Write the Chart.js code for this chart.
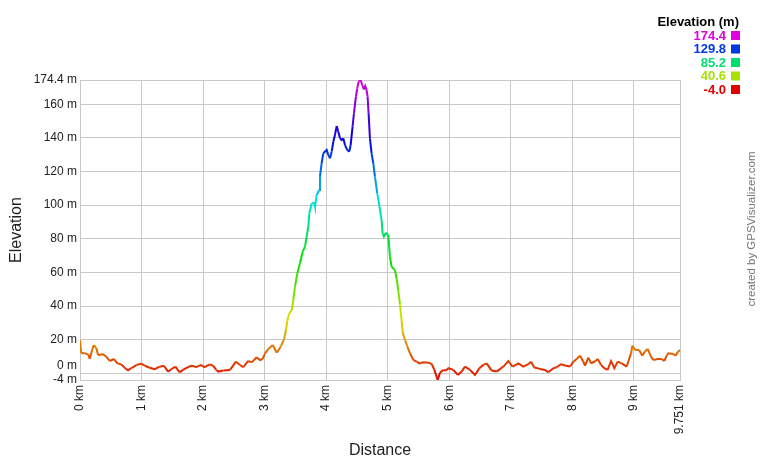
<!DOCTYPE html>
<html>
<head>
<meta charset="utf-8">
<title>Elevation profile</title>
<script src="https://cdn.jsdelivr.net/npm/chart.js@4.4.0/dist/chart.umd.min.js"></script>
<style>
  html, body { margin: 0; padding: 0; background: #fff; }
  #wrap { width: 760px; height: 460px; position: relative; }
</style>
</head>
<body>
<div id="wrap"><canvas id="chart"></canvas></div>
<script>
// track profile
const distanceKm = [
  0, 0.02, 0.076, 0.141, 0.158, 0.184, 0.223, 0.265, 0.293, 0.374, 0.427, 0.483, 0.553, 0.606, 0.671, 0.726,
  0.78, 0.834, 0.915, 0.996, 1.052, 1.133, 1.214, 1.295, 1.365, 1.43, 1.484, 1.549, 1.62, 1.674, 1.755, 1.809,
  1.89, 1.962, 2.027, 2.108, 2.162, 2.215, 2.248, 2.329, 2.438, 2.535, 2.6, 2.654, 2.735, 2.79, 2.872, 2.925,
  2.969, 3.007, 3.06, 3.132, 3.197, 3.262, 3.315, 3.348, 3.369, 3.402, 3.44, 3.467, 3.494, 3.532, 3.575, 3.619,
  3.657, 3.684, 3.711, 3.727, 3.765, 3.803, 3.819, 3.846, 3.889, 3.9, 3.927, 3.954, 4.009, 4.036, 4.063, 4.09,
  4.117, 4.144, 4.171, 4.198, 4.225, 4.252, 4.279, 4.306, 4.344, 4.376, 4.398, 4.43, 4.452, 4.484, 4.506, 4.527,
  4.56, 4.587, 4.614, 4.636, 4.657, 4.674, 4.69, 4.712, 4.739, 4.766, 4.793, 4.831, 4.863, 4.901, 4.918, 4.939,
  4.972, 5.01, 5.037, 5.063, 5.118, 5.145, 5.172, 5.2, 5.228, 5.245, 5.283, 5.32, 5.363, 5.418, 5.472, 5.515,
  5.58, 5.661, 5.716, 5.759, 5.813, 5.851, 5.905, 5.948, 5.986, 6.067, 6.138, 6.203, 6.257, 6.338, 6.419, 6.49,
  6.555, 6.609, 6.69, 6.772, 6.88, 6.961, 7.031, 7.124, 7.205, 7.286, 7.33, 7.384, 7.476, 7.557, 7.611, 7.693,
  7.747, 7.818, 7.883, 7.964, 8.019, 8.072, 8.127, 8.18, 8.207, 8.262, 8.305, 8.38, 8.413, 8.467, 8.521, 8.575,
  8.63, 8.684, 8.738, 8.803, 8.885, 8.955, 8.977, 9.02, 9.085, 9.14, 9.182, 9.226, 9.28, 9.318, 9.388, 9.453,
  9.496, 9.534, 9.561, 9.643, 9.68, 9.713, 9.751
];
const elevationM = [
  19.8, 11.9, 12, 10.9, 8.5, 12, 16.8, 14.9, 10.9, 11.3, 9.9, 7.3, 8.5, 5.9, 5.3, 3.3,
  1.8, 3, 4.9, 5.7, 4.5, 3.3, 2.4, 3.9, 4.5, 1, 2.4, 3.9, 0.6, 2, 3.6, 4.5,
  3.7, 4.9, 3.6, 5.3, 4.5, 2, 1, 1.6, 2, 6.9, 4.9, 3.6, 7.3, 6.5, 9.5, 7.9,
  8.5, 11.9, 14.4, 16.8, 12.2, 15.8, 20.2, 25.7, 31.3, 35.7, 37.6, 43.6, 51.5, 59.5, 65.4, 72.3,
  75.3, 81.3, 87.2, 95.1, 101, 101.5, 99, 106, 109, 117, 124.9, 130.8, 132.8, 129.8, 127.8, 131.8,
  137.7, 141.7, 147, 143.7, 139.7, 138.7, 139.7, 135.7, 132.8, 131.8, 135.7, 146.7, 154.6, 164.5, 169.4, 173.4,
  174.4, 171.4, 168.8, 170.8, 168.4, 164.5, 154.6, 139.7, 130.8, 124.9, 117, 107, 100, 91.2, 83.2, 81.3,
  83.6, 82.2, 69.4, 63.4, 61.4, 56.5, 49.5, 41, 31, 24, 19.8, 15.9, 11.9, 7.9, 6.9, 5.9,
  6.5, 6.3, 5.5, 2, -4, 0.4, 2, 1.6, 3, 2, -1, 1, 4, 2, -1, 3,
  5, 5.9, 1.6, 1, 4, 7.3, 4, 5.9, 4, 5.4, 6.9, 3.4, 2.6, 2, 0.6, 3,
  3.6, 5.4, 4.6, 4, 6.9, 8.5, 10.5, 6.9, 4.6, 9.3, 5.9, 7.3, 8.5, 5, 3, 2,
  7.3, 3, 6.9, 5.9, 4, 11.9, 16.4, 13.9, 13.9, 10.5, 12.9, 14.5, 9.9, 7.9, 8.5, 8.5,
  7.3, 10.5, 11.9, 11.5, 10.5, 12.5, 13.9
];
const yTicks = [-4, 0, 20, 40, 60, 80, 100, 120, 140, 160, 174.4];
const xTicks = [0, 1, 2, 3, 4, 5, 6, 7, 8, 9, 9.751];
const legendValues = [174.4, 129.8, 85.2, 40.6, -4.0];

const ELEV_MIN = -4, ELEV_MAX = 174.4;
const FONT = '"Liberation Sans", Arial, sans-serif';

// red -> yellow -> green -> blue -> magenta by elevation
function elevColor(m) {
  const t = Math.max(0, Math.min(1, (m - ELEV_MIN) / (ELEV_MAX - ELEV_MIN)));
  return `hsl(${Math.round(t * 300)}, 100%, 44%)`;
}

const extras = {
  id: 'extras',
  afterDraw(chart) {
    const ctx = chart.ctx;
    ctx.save();
    ctx.textBaseline = 'middle';
    ctx.textAlign = 'right';
    ctx.font = `bold 13px ${FONT}`;
    ctx.fillStyle = '#000';
    ctx.fillText('Elevation (m)', 739, 22);
    legendValues.forEach((v, i) => {
      const y = 36 + i * 13.5;
      ctx.fillStyle = elevColor(v);
      ctx.fillText(v.toFixed(1), 726, y);
      ctx.fillRect(731, y - 5, 9, 9);
    });
    ctx.translate(752, 229);
    ctx.rotate(-Math.PI / 2);
    ctx.textAlign = 'center';
    ctx.font = `11.5px ${FONT}`;
    ctx.fillStyle = '#777';
    ctx.fillText('created by GPSVisualizer.com', 0, 0);
    ctx.restore();
  }
};

Chart.defaults.font.family = FONT;

new Chart(document.getElementById('chart'), {
  type: 'line',
  data: {
    datasets: [{
      data: distanceKm.map((d, i) => ({ x: d, y: elevationM[i] })),
      borderColor: '#e00000',
      borderWidth: 2,
      pointRadius: 0,
      tension: 0,
      segment: { borderColor: c => elevColor((c.p0.parsed.y + c.p1.parsed.y) / 2) },
    }],
  },
  options: {
    responsive: true,
    maintainAspectRatio: false,
    animation: false,
    layout: { padding: { left: 0, right: 80, top: 80, bottom: 0 } },
    plugins: { legend: { display: false }, tooltip: { enabled: false } },
    scales: {
      x: {
        type: 'linear', min: 0, max: 9.751,
        afterBuildTicks: s => { s.ticks = xTicks.map(v => ({ value: v })); },
        afterFit: s => { s.height = 80; },
        grid: { color: '#c8c8c8', drawTicks: false },
        border: { color: '#c8c8c8' },
        ticks: { autoSkip: false, minRotation: 90, maxRotation: 90, padding: 5, color: '#222', font: { size: 12 },
                 callback: v => v + ' km' },
        title: { display: true, text: 'Distance', color: '#222', font: { size: 16 }, padding: { top: 1.4, bottom: 0 } },
      },
      y: {
        min: ELEV_MIN, max: ELEV_MAX,
        afterBuildTicks: s => { s.ticks = yTicks.map(v => ({ value: v })); },
        afterFit: s => { s.width = 80; },
        grid: { color: '#c8c8c8', drawTicks: false },
        border: { color: '#c8c8c8' },
        // the 0 m label sits a little higher so it clears the -4 m one
        ticks: { autoSkip: false, padding: 3, color: '#222', font: { size: 12 },
                 callback: v => v === 0 ? ['0 m', ''] : v + ' m' },
        title: { display: true, text: 'Elevation', color: '#222', font: { size: 16 }, padding: { top: 7.4, bottom: 0 } },
      },
    },
  },
  plugins: [extras],
});
</script>
</body>
</html>
